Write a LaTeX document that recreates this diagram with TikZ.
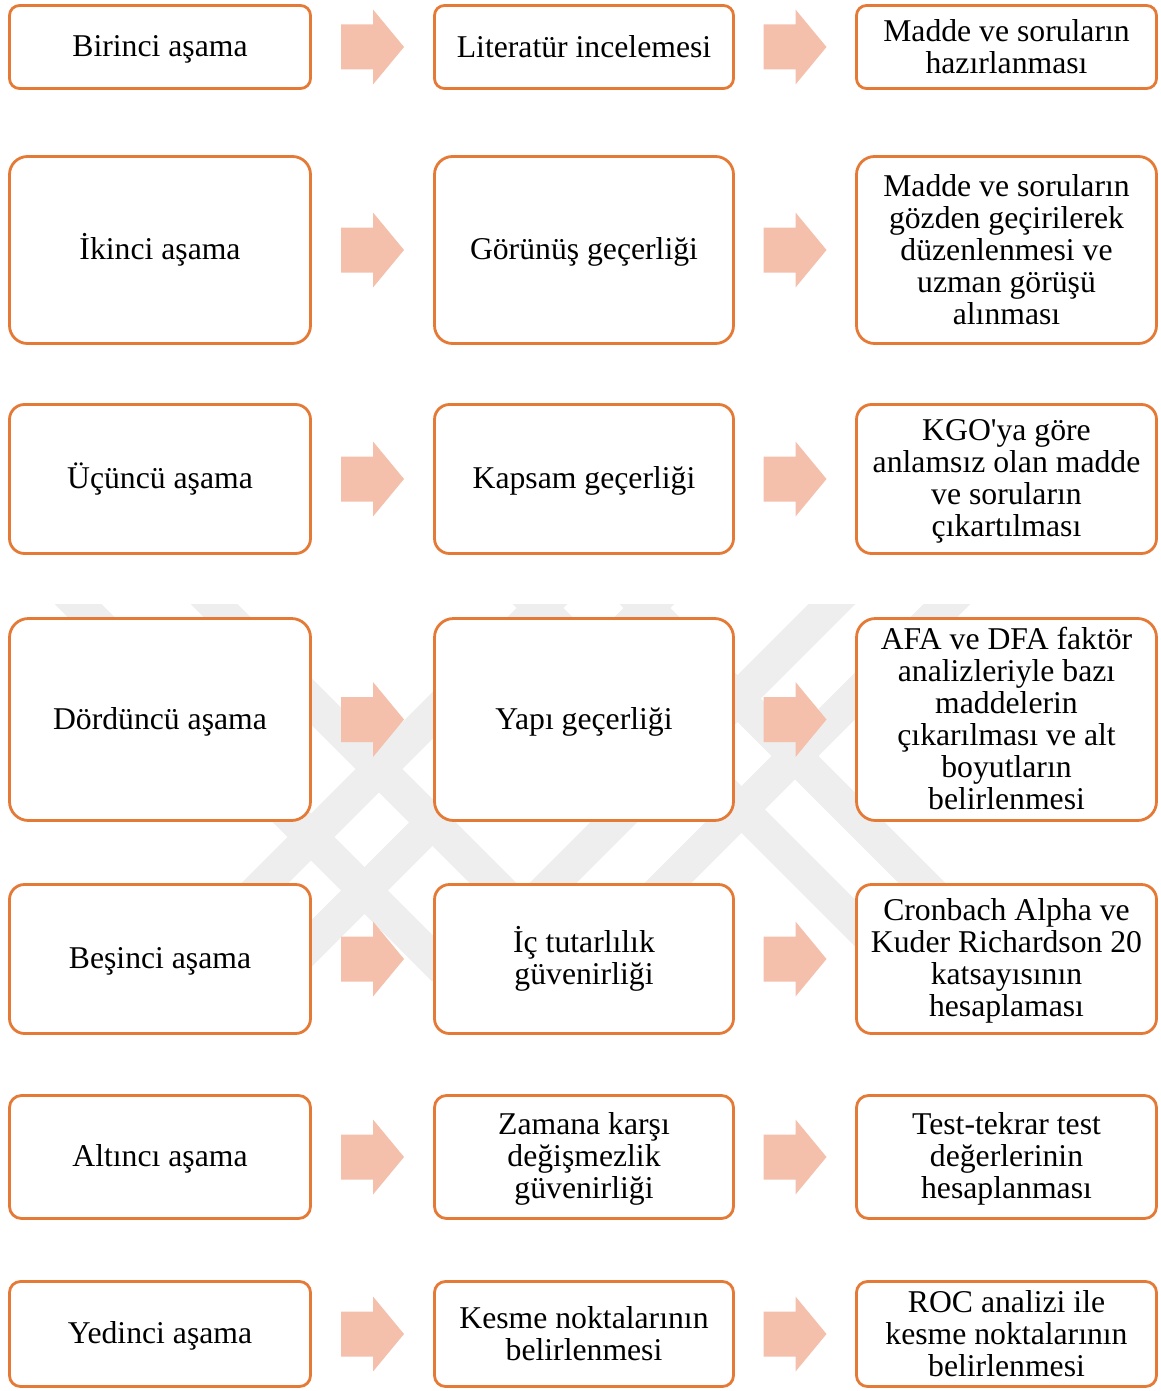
\documentclass[tikz,border=0pt]{standalone}
\usepackage{fontspec}
\setmainfont{Liberation Serif}
\usetikzlibrary{calc}
\definecolor{boxline}{HTML}{E57A36}
\definecolor{arrfill}{HTML}{F4BFAB}
\definecolor{wmark}{HTML}{EEEEEE}
\newcommand\stxt[1]{\rule{0pt}{26.4pt}#1\rule[-5.6pt]{0pt}{5.6pt}}
\newcommand\blockarrow[3]{%
  \coordinate (#3) at ($(#1.east)!0.5!(#2.west)$);
  \fill[arrfill] ([shift={(-31.5,-22.5)}]#3) -- ([shift={(0.5,-22.5)}]#3)
    -- ([shift={(0.5,-37.5)}]#3) -- ([shift={(31.5,0)}]#3)
    -- ([shift={(0.5,37.5)}]#3) -- ([shift={(0.5,22.5)}]#3)
    -- ([shift={(-31.5,22.5)}]#3) -- cycle;}
\newcommand\stagerow[7]{%
  \node[stagebox,minimum height=#3pt,rounded corners=#4pt,minimum width=301pt] (b#1a) at (160,#2) {\stxt{#5}};
  \node[stagebox,minimum height=#3pt,rounded corners=#4pt,minimum width=299pt] (b#1b) at (584,#2) {\stxt{#6}};
  \node[stagebox,minimum height=#3pt,rounded corners=#4pt,minimum width=300pt] (b#1c) at (1006.5,#2) {\stxt{#7}};
  \blockarrow{b#1a}{b#1b}{a#1a}
  \blockarrow{b#1b}{b#1c}{a#1b}}
\begin{document}
\begin{tikzpicture}[x=1pt,y=-1pt,
  stagebox/.style={draw=boxline, line width=2.8pt, fill=white, align=center,
    inner sep=0pt, text=black, font=\fontsize{31.7}{32}\selectfont},
  wband/.style={draw=wmark, line width=33pt}]
\path[use as bounding box, fill=white] (0,0) rectangle (1160,1391);
% faint background watermark
\begin{scope}
  \clip (40,604) rectangle (975,980);
  \foreach \x in {82,218,540,647} \draw[wband] (\x-40,568) -- (\x+420,1028);
  \foreach \x in {540,647,828,943} \draw[wband] (\x+40,568) -- (\x-420,1028);
\end{scope}
\stagerow{1}{47}{83}{10}{Birinci aşama}{Literatür incelemesi}{Madde ve soruların\\hazırlanması}
\stagerow{2}{250}{187}{18}{İkinci aşama}{Görünüş geçerliği}{Madde ve soruların\\gözden geçirilerek\\düzenlenmesi ve\\uzman görüşü\\alınması}
\stagerow{3}{479}{149}{15}{Üçüncü aşama}{Kapsam geçerliği}{KGO\textquotesingle ya göre\\anlamsız olan madde\\ve soruların\\çıkartılması}
\stagerow{4}{719.5}{202}{19}{Dördüncü aşama}{Yapı geçerliği}{AFA ve DFA faktör\\analizleriyle bazı\\maddelerin\\çıkarılması ve alt\\boyutların\\belirlenmesi}
\stagerow{5}{959}{149}{15}{Beşinci aşama}{İç tutarlılık\\güvenirliği}{Cronbach Alpha ve\\Kuder Richardson 20\\katsayısının\\hesaplaması}
\stagerow{6}{1157}{123}{12}{Altıncı aşama}{Zamana karşı\\değişmezlik\\güvenirliği}{Test-tekrar test\\değerlerinin\\hesaplanması}
\stagerow{7}{1334}{105}{11}{Yedinci aşama}{Kesme noktalarının\\belirlenmesi}{ROC analizi ile\\kesme noktalarının\\belirlenmesi}
\end{tikzpicture}
\end{document}
